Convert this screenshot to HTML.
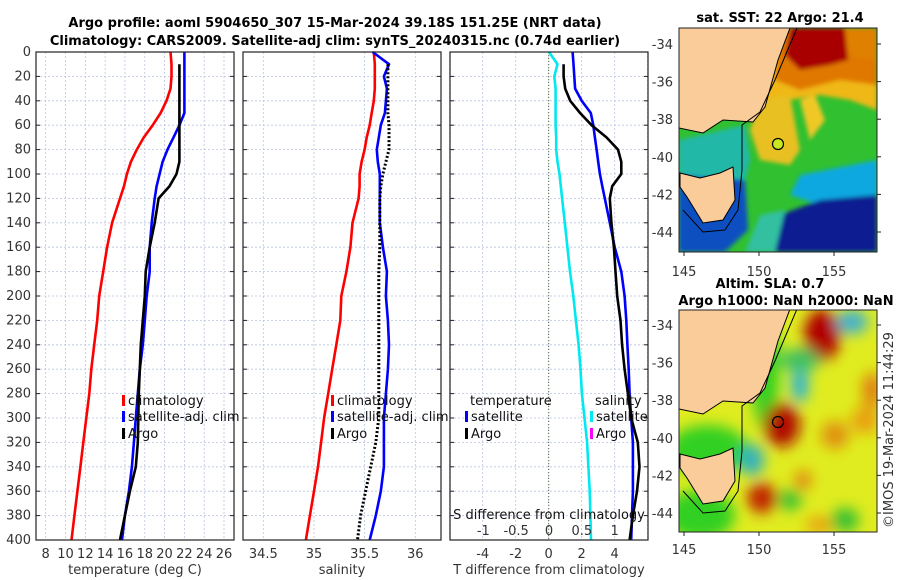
<!DOCTYPE html>
<html><head><meta charset="utf-8">
<style>
body{margin:0;background:#fff;}
svg{display:block;font-family:"DejaVu Sans","Liberation Sans",sans-serif;}
.tk{font-size:13px;fill:#333;}
.ttl{font-size:13px;font-weight:bold;fill:#000;}
.lg{font-size:13px;fill:#111;}
</style></head><body>
<svg id="fig" width="900" height="580" viewBox="0 0 900 580">
<defs>
<filter id="blur6"><feGaussianBlur stdDeviation="7"/></filter>
<filter id="blur2"><feGaussianBlur stdDeviation="2"/></filter>
<clipPath id="m1clip"><rect x="679" y="28" width="198" height="224"/></clipPath>
<clipPath id="m2clip"><rect x="679" y="310" width="198" height="222"/></clipPath>
</defs>
<text class="ttl" x="335" y="27" text-anchor="middle">Argo profile: aoml 5904650_307 15-Mar-2024 39.18S 151.25E (NRT data)</text>
<text class="ttl" x="335" y="45" text-anchor="middle">Climatology: CARS2009. Satellite-adj clim: synTS_20240315.nc (0.74d earlier)</text>
<g id="plots"></g>

<!-- map 1 SST -->
<g clip-path="url(#m1clip)">
<rect x="679" y="28" width="198" height="224" fill="#30c030"/>
<g filter="url(#blur2)">
<polygon points="770,28 877,28 877,110 850,100 820,95 790,100 760,105" fill="#f0b818"/>
<polygon points="780,28 877,28 877,85 840,80 800,90 775,80" fill="#e07800"/>
<polygon points="790,28 845,28 848,60 830,65 800,70 785,55" fill="#a80000"/>
<polygon points="845,28 877,28 877,60 848,55" fill="#e08000"/>
<polygon points="760,100 790,95 800,150 790,165 760,160 750,130" fill="#e8c020"/>
<polygon points="800,100 815,95 825,120 810,140" fill="#f0c828"/>
<polygon points="679,140 745,125 750,160 745,180 679,175" fill="#20b8a8"/>
<polygon points="800,175 877,160 877,200 820,205 790,195" fill="#10a8e0"/>
<polygon points="679,175 745,180 748,230 725,252 679,252" fill="#1050c0"/>
<polygon points="765,252 780,215 820,200 877,195 877,252" fill="#0c1e90"/>
<polygon points="745,252 760,215 785,210 775,252" fill="#30c0a0"/>
</g>
<path d="M679,28 L790,28 L778,60 L765,107 L753,122 L723,120 L703,133 L679,128 Z" fill="#f9cc9a" stroke="#000" stroke-width="1"/>
<path d="M680,173 L700,178 L720,173 L733,167 L735,200 L723,220 L703,223 L687,197 L680,187 Z" fill="#f9cc9a" stroke="#000" stroke-width="1"/>
<path d="M797,28 L775,80 L760,112 L742,125 L742,170 L738,210 L725,230 L703,232 L683,210" fill="none" stroke="#000" stroke-width="1"/>
<circle cx="778" cy="144" r="5.5" fill="#c8e820" stroke="#000" stroke-width="1.2"/>
</g>
<rect x="679" y="28" width="198" height="224" fill="none" stroke="#222" stroke-width="1"/>
<text class="ttl" x="780" y="22" text-anchor="middle">sat. SST: 22 Argo: 21.4</text>

<!-- map 2 SLA -->
<g clip-path="url(#m2clip)">
<rect x="679" y="310" width="198" height="222" fill="#e0ec20"/>
<g filter="url(#blur6)">
<ellipse cx="708" cy="450" rx="40" ry="25" fill="#30d020"/>
<ellipse cx="700" cy="515" rx="35" ry="25" fill="#30d020"/>
<ellipse cx="765" cy="370" rx="14" ry="60" fill="#30d020"/>
<ellipse cx="822" cy="335" rx="18" ry="26" fill="#b00000"/>
<ellipse cx="782" cy="425" rx="18" ry="22" fill="#b01000"/>
<ellipse cx="762" cy="498" rx="15" ry="15" fill="#c02000"/>
<ellipse cx="835" cy="435" rx="14" ry="14" fill="#e09010"/>
<ellipse cx="865" cy="420" rx="14" ry="14" fill="#e8a010"/>
<ellipse cx="872" cy="390" rx="10" ry="18" fill="#e08010"/>
<ellipse cx="803" cy="480" rx="8" ry="10" fill="#e08010"/>
<ellipse cx="820" cy="525" rx="15" ry="8" fill="#e8a010"/>
<ellipse cx="800" cy="385" rx="8" ry="18" fill="#20b0e0"/>
<ellipse cx="800" cy="360" rx="20" ry="12" fill="#40c060"/>
<ellipse cx="752" cy="460" rx="12" ry="16" fill="#30b0c0"/>
<ellipse cx="852" cy="322" rx="16" ry="12" fill="#40b0d0"/>
<ellipse cx="845" cy="520" rx="14" ry="12" fill="#30c030"/>
<ellipse cx="790" cy="500" rx="12" ry="10" fill="#30c030"/>
</g>
<path d="M679,309 L790,309 L778,341 L765,388 L753,403 L723,401 L703,414 L679,409 Z" fill="#f9cc9a" stroke="#000" stroke-width="1"/>
<path d="M680,454 L700,459 L720,454 L733,448 L735,481 L723,501 L703,504 L687,478 L680,468 Z" fill="#f9cc9a" stroke="#000" stroke-width="1"/>
<path d="M797,309 L775,361 L760,393 L742,406 L742,451 L738,491 L725,511 L703,513 L683,491" fill="none" stroke="#000" stroke-width="1"/>
<circle cx="778" cy="422" r="5.5" fill="none" stroke="#000" stroke-width="1.2"/>
</g>
<rect x="679" y="310" width="198" height="222" fill="none" stroke="#222" stroke-width="1"/>
<text class="ttl" x="770" y="288" text-anchor="middle">Altim. SLA: 0.7</text>
<text class="ttl" x="786" y="305" text-anchor="middle">Argo h1000: NaN h2000: NaN</text>
<text class="tk" transform="translate(893,430) rotate(-90)" text-anchor="middle">©IMOS 19-Mar-2024 11:44:29</text>
<g id="mapticks"></g>
</svg>
<script>
const depths = [0,10,20,30,40,50,60,70,80,90,100,110,120,140,160,180,200,220,240,260,280,300,320,340,360,380,400];
// temperature (deg C)
const tClim = [20.6,20.7,20.7,20.6,20.2,19.6,18.8,17.9,17.2,16.6,16.2,15.9,15.5,14.7,14.2,13.8,13.4,13.2,12.9,12.6,12.4,12.1,11.8,11.5,11.2,10.9,10.6];
const tSat  = [22.0,22.0,22.0,22.0,22.0,22.0,21.5,20.9,20.3,19.8,19.5,19.2,19.0,18.7,18.5,18.5,18.2,18.0,17.8,17.5,17.3,17.1,16.9,16.7,16.4,16.0,15.7];
const tArgo = [null,21.5,21.5,21.5,21.5,21.5,21.5,21.5,21.5,21.5,21.2,20.5,19.4,19.0,18.5,18.1,18.0,17.8,17.6,17.5,17.4,17.35,17.3,17.1,16.5,16.0,15.5];
// salinity
const sClim = [35.59,35.60,35.60,35.60,35.59,35.57,35.55,35.52,35.50,35.47,35.45,35.45,35.44,35.38,35.36,35.32,35.27,35.26,35.22,35.18,35.14,35.10,35.07,35.04,35.00,34.96,34.92];
const sSat  = [35.58,35.74,35.69,35.72,35.71,35.70,35.66,35.64,35.62,35.63,35.65,35.65,35.65,35.65,35.68,35.72,35.71,35.73,35.74,35.73,35.71,35.69,35.69,35.69,35.66,35.61,35.55];
const sArgo = [null,35.73,35.73,35.73,35.73,35.73,35.74,35.74,35.74,35.71,35.68,35.66,35.65,35.65,35.65,35.64,35.64,35.64,35.64,35.64,35.64,35.64,35.61,35.56,35.51,35.46,35.43];
// differences from climatology
const dTSat  = [1.45,1.5,1.55,1.6,2.0,2.55,2.7,2.8,2.9,3.0,3.1,3.25,3.4,3.7,4.0,4.4,4.6,4.7,4.77,4.85,4.9,5.0,5.1,5.1,5.1,5.05,5.0];
const dTArgo = [null,0.9,0.9,1.0,1.3,1.9,2.6,3.5,4.2,4.4,4.4,3.85,3.7,3.8,3.95,4.05,4.15,4.35,4.45,4.6,4.8,5.0,5.4,5.5,5.35,5.1,4.9];
const dSSat  = [0.0,0.13,0.08,0.1,0.1,0.1,0.1,0.11,0.11,0.13,0.16,0.18,0.2,0.24,0.28,0.32,0.37,0.41,0.45,0.48,0.5,0.54,0.58,0.6,0.62,0.63,0.64];
const depthTicks = [0,20,40,60,80,100,120,140,160,180,200,220,240,260,280,300,320,340,360,380,400];
const tTicks = [8,10,12,14,16,18,20,22,24,26];
const sTicks = [34.5,35,35.5,36];
const dTTicks = [-4,-2,0,2,4];
const dSTicks = [-1,-0.5,0,0.5,1];
const latTicks = [-34,-36,-38,-40,-42,-44];
const lonTicks = [145,150,155];

const NS='http://www.w3.org/2000/svg';
const root=document.getElementById('plots');
function el(tag,attrs,parent,txt){const e=document.createElementNS(NS,tag);for(const k in attrs)e.setAttribute(k,attrs[k]);if(txt!==undefined)e.textContent=txt;(parent||root).appendChild(e);return e;}
const Y0=52,Y1=540;
const yD=d=>Y0+d*(Y1-Y0)/400;
const xT=v=>45.7+(v-8)*(224-45.7)/18;
const xS=v=>263.3+(v-34.5)*(415.3-263.3)/1.5;
const xdT=v=>548.7+v*16.5;
const xdS=v=>549+v*65.7;

function panel(x0,x1,name,xTicks,xf,title,gridTicks){
  const g=el('g',{});
  
  
  (gridTicks||xTicks).forEach(t=>{const l=el('line',{x1:xf(t),x2:xf(t),y1:Y0,y2:Y1,stroke:'#b8c4e0','stroke-width':0.8,'stroke-dasharray':'2,2'},g);});
  depthTicks.forEach(d=>{const l=el('line',{x1:x0,x2:x1,y1:yD(d),y2:yD(d),stroke:'#b8c4e0','stroke-width':0.8,'stroke-dasharray':'2,2'},g);
    el('line',{x1:x0,x2:x0+4,y1:yD(d),y2:yD(d),stroke:'#222'},g);el('line',{x1:x1-4,x2:x1,y1:yD(d),y2:yD(d),stroke:'#222'},g);});
  xTicks.forEach(t=>{const tx=el('text',{class:'tk',x:xf(t),y:558,'text-anchor':'middle'},g,String(t));});
  const at=el('text',{class:'tk',x:(x0+x1)/2,y:574,'text-anchor':'middle'},g,title);
  
  return g;
}
function line(g,vals,xf,color,name,dash){
  let d='';let started=false;
  vals.forEach((v,i)=>{if(v===null)return;d+=(started?'L':'M')+xf(v).toFixed(1)+','+yD(depths[i]).toFixed(1);started=true;});
  const p=el('path',{d:d,fill:'none',stroke:color,'stroke-width':dash?3:2.6,'stroke-linejoin':'round'},g);
  if(dash)p.setAttribute('stroke-dasharray',dash);
  
}
function frame(g,x0,x1){const r=el('rect',{x:x0,y:Y0,width:x1-x0,height:Y1-Y0,fill:'none',stroke:'#222','stroke-width':1.2},g);}
function legItem(g,x,y,color,label){el('rect',{x:x,y:y-10,width:3,height:11,fill:color},g);const t=el('text',{class:'lg',x:x+6,y:y},g,label);}

const g1=panel(36,234,'temperature-panel',tTicks,xT,'temperature (deg C)');
depthTicks.forEach(d=>{const t=el('text',{class:'tk',x:31,y:yD(d)+4,'text-anchor':'end'},g1,String(d));});
line(g1,tClim,xT,'#ff0000','temp-climatology-line');
line(g1,tSat,xT,'#0000ff','temp-satellite-line');
line(g1,tArgo,xT,'#000','temp-argo-line');
frame(g1,36,234);
legItem(g1,122,405,'#ff0000','climatology');legItem(g1,122,421,'#0000ff','satellite-adj. clim');legItem(g1,122,438,'#000','Argo');

const g2=panel(243,441,'salinity-panel',sTicks,xS,'salinity');
line(g2,sClim,xS,'#ff0000','sal-climatology-line');
line(g2,sSat,xS,'#0000ff','sal-satellite-line');
line(g2,sArgo,xS,'#000','sal-argo-line','2,2');
frame(g2,243,441);
legItem(g2,331,405,'#ff0000','climatology');legItem(g2,331,421,'#0000ff','satellite-adj. clim');legItem(g2,331,438,'#000','Argo');

const g3=panel(450,648,'difference-panel',dTTicks,xdT,'T difference from climatology',[-6,-4,-2,0,2,4,6]);
el('line',{x1:xdT(0),x2:xdT(0),y1:Y0,y2:Y1,stroke:'#556b2f','stroke-width':1,'stroke-dasharray':'1,2'},g3);
line(g3,dSSat,xdS,'#00e8f0','sal-diff-satellite-line');
line(g3,dTSat,xdT,'#0000ff','temp-diff-satellite-line');
line(g3,dTArgo,xdT,'#000','temp-diff-argo-line');
frame(g3,450,648);
el('text',{class:'lg',x:470,y:405},g3,'temperature');
el('text',{class:'lg',x:595,y:405},g3,'salinity');
legItem(g3,465,421,'#0000ff','satellite');legItem(g3,465,438,'#000','Argo');
legItem(g3,590,421,'#00e8f0','satellite');legItem(g3,590,438,'#ff00ff','Argo');
const st=el('text',{class:'lg',x:549,y:519,'text-anchor':'middle'},g3,'S difference from climatology');

dSTicks.forEach(t=>{const tx=el('text',{class:'tk',x:xdS(t),y:535,'text-anchor':'middle'},g3,String(t));});

const mt=document.getElementById('mapticks');
const latY1=l=>44+(-34-l)*18.8, latY2=l=>325+(-34-l)*18.8, lonX=l=>684+(l-145)*15;
latTicks.forEach(l=>{[latY1,latY2].forEach(f=>{
  const t=el('text',{class:'tk',x:673,y:f(l)+5,'text-anchor':'end'},mt,String(l));
  el('line',{x1:877,x2:881,y1:f(l),y2:f(l),stroke:'#222'},mt);});});
lonTicks.forEach(l=>{[[272,252],[550,532]].forEach(([ty,by])=>{
  const t=el('text',{class:'tk',x:lonX(l),y:ty+4,'text-anchor':'middle'},mt,String(l));
  el('line',{x1:lonX(l),x2:lonX(l),y1:by,y2:by+4,stroke:'#222'},mt);});});
</script>
</body></html>
